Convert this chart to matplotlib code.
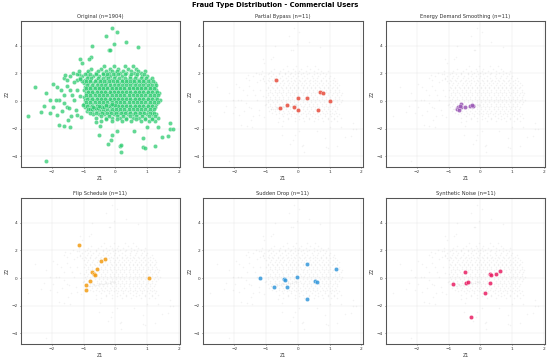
import matplotlib
matplotlib.use("Agg")
import matplotlib.pyplot as plt
import numpy as np

# ---------------- data ----------------
# dense core of the original cloud: rows of Z2 with their Z1 values
core_rows_z2 = [2.55, 2.3, 2.05, 1.8, 1.55, 1.3, 1.05, 0.8, 0.55, 0.3, 0.05,
                -0.2, -0.45, -0.7, -0.95, -1.2, -1.45]
core_rows_z1 = [
    [-0.35, -0.05, 0.3, 0.55],
    [-0.75, -0.45, -0.15, 0.1, 0.4, 0.65],
    [-0.9, -0.6, -0.4, -0.2, 0.0, 0.15, 0.35, 0.6, 0.8],
    [-1.05, -0.85, -0.7, -0.5, -0.3, -0.15, 0.0, 0.2, 0.45, 0.65, 0.85, 1.0],
    [-1.2, -0.95, -0.8, -0.62, -0.45, -0.3, -0.12, 0.05, 0.22, 0.38, 0.55, 0.72, 0.9, 1.1],
    [-1.0, -0.85, -0.7, -0.55, -0.42, -0.28, -0.15, 0.0, 0.13, 0.27, 0.4, 0.53, 0.67, 0.8, 0.95, 1.1, 1.25],
    [-0.95, -0.8, -0.66, -0.52, -0.38, -0.25, -0.12, 0.02, 0.15, 0.28, 0.42, 0.55, 0.68, 0.82, 0.96, 1.1, 1.24],
    [-1.0, -0.86, -0.72, -0.58, -0.45, -0.32, -0.18, -0.05, 0.08, 0.22, 0.35, 0.48, 0.62, 0.75, 0.88, 1.02, 1.16, 1.3],
    [-0.93, -0.8, -0.66, -0.52, -0.38, -0.25, -0.12, 0.02, 0.15, 0.28, 0.42, 0.55, 0.68, 0.82, 0.96, 1.1, 1.24, 1.38],
    [-1.0, -0.86, -0.72, -0.58, -0.45, -0.32, -0.18, -0.05, 0.08, 0.22, 0.35, 0.48, 0.62, 0.75, 0.88, 1.02, 1.16, 1.3],
    [-0.95, -0.8, -0.66, -0.52, -0.38, -0.25, -0.12, 0.02, 0.15, 0.28, 0.42, 0.55, 0.68, 0.82, 0.96, 1.1, 1.24, 1.4],
    [-1.0, -0.86, -0.72, -0.58, -0.45, -0.32, -0.18, -0.05, 0.08, 0.22, 0.35, 0.48, 0.62, 0.75, 0.88, 1.02, 1.16, 1.3],
    [-0.95, -0.8, -0.66, -0.52, -0.38, -0.25, -0.12, 0.02, 0.15, 0.28, 0.42, 0.55, 0.68, 0.82, 0.96, 1.1, 1.24],
    [-0.9, -0.72, -0.58, -0.45, -0.32, -0.18, -0.05, 0.08, 0.22, 0.35, 0.48, 0.62, 0.75, 0.88, 1.02, 1.16],
    [-0.7, -0.5, -0.35, -0.2, -0.05, 0.1, 0.25, 0.4, 0.55, 0.7, 0.85, 1.0, 1.15, 1.3],
    [-0.6, -0.3, -0.1, 0.15, 0.35, 0.55, 0.75, 0.95, 1.15, 1.35],
    [-0.45, -0.1, 0.2, 0.5, 0.8, 1.05, 1.25],
]

# interleaved rows of the core
mid_rows_z2 = [2.18, 1.93, 1.68, 1.42, 1.17, 0.92, 0.67, 0.42, 0.17, -0.08,
               -0.33, -0.58, -0.83, -1.08, -1.33]
mid_rows_z1 = [
    [-0.85, -0.55, -0.3, -0.1, 0.05, 0.25, 0.5, 0.72, 0.95],
    [-1.15, -0.95, -0.78, -0.6, -0.4, -0.25, -0.08, 0.1, 0.3, 0.5, 0.7, 0.9],
    [-1.1, -0.9, -0.75, -0.55, -0.38, -0.22, -0.05, 0.12, 0.3, 0.48, 0.62, 0.8, 0.98, 1.15],
    [-1.05, -0.92, -0.78, -0.63, -0.49, -0.35, -0.21, -0.08, 0.07, 0.2, 0.34, 0.47, 0.6, 0.74, 0.88, 1.02, 1.18],
    [-0.88, -0.73, -0.59, -0.45, -0.31, -0.18, -0.05, 0.09, 0.21, 0.35, 0.48, 0.61, 0.75, 0.89, 1.03, 1.17, 1.3],
    [-0.93, -0.79, -0.65, -0.51, -0.38, -0.25, -0.11, 0.02, 0.15, 0.28, 0.42, 0.55, 0.69, 0.82, 0.95, 1.09, 1.23],
    [-0.87, -0.73, -0.59, -0.45, -0.31, -0.18, -0.05, 0.09, 0.21, 0.35, 0.48, 0.62, 0.75, 0.89, 1.03, 1.17, 1.31],
    [-0.93, -0.79, -0.65, -0.51, -0.38, -0.25, -0.11, 0.02, 0.15, 0.28, 0.42, 0.55, 0.69, 0.82, 0.95, 1.09, 1.23, 1.36],
    [-0.88, -0.73, -0.59, -0.45, -0.31, -0.18, -0.05, 0.09, 0.21, 0.35, 0.48, 0.62, 0.75, 0.89, 1.03, 1.17, 1.31],
    [-0.93, -0.79, -0.65, -0.51, -0.38, -0.25, -0.11, 0.02, 0.15, 0.28, 0.42, 0.55, 0.69, 0.82, 0.95, 1.09, 1.23, 1.35],
    [-0.88, -0.73, -0.59, -0.45, -0.31, -0.18, -0.05, 0.09, 0.21, 0.35, 0.48, 0.62, 0.75, 0.89, 1.03, 1.17],
    [-0.83, -0.65, -0.51, -0.38, -0.25, -0.11, 0.02, 0.15, 0.28, 0.42, 0.55, 0.69, 0.82, 0.95, 1.09, 1.23],
    [-0.8, -0.6, -0.42, -0.27, -0.12, 0.02, 0.17, 0.32, 0.47, 0.62, 0.78, 0.92, 1.08, 1.22],
    [-0.45, -0.2, 0.05, 0.25, 0.45, 0.65, 0.85, 1.05, 1.25],
    [-0.3, 0.05, 0.35, 0.65, 0.95, 1.15],
]

# denser streak of the original cloud
streak_z1 = [-0.85, -0.78, -0.72, -0.66, -0.6, -0.54, -0.48, -0.42, -0.36, -0.3,
             -0.24, -0.18, -0.12, -0.06, 0.0, -0.7, -0.5, -0.3, -0.1]
streak_z2 = [-0.6, -0.58, -0.55, -0.52, -0.5, -0.48, -0.45, -0.43, -0.4, -0.38,
             -0.36, -0.33, -0.3, -0.28, -0.25, -0.42, -0.35, -0.28, -0.2]

# sparse points and outliers of the original cloud
sparse_z1 = [-0.11, 0.04, -0.28, -0.04, 0.34, 0.71, -0.72, -0.2, -0.16, -0.77,
             -0.83, -1.1, -1.06, -2.54, -2.18, -2.76, -2.26, -2.05, -2.33, -1.78,
             -1.61, -1.44, -2.18, -0.24, 0.14, 0.18, 0.19, 0.88, 0.94, 1.24,
             -0.09, -0.14, 0.05, 0.6, 1.0, 1.36, 1.48, 1.67, 1.73, 1.73,
             1.83, 0.87, -0.49, -0.51, -0.62,
             -1.95, -1.84, -1.72, -1.63, -1.53, -1.42, -1.32, -1.21, -1.13, -1.53,
             -1.78, -1.88, -1.63, -1.53, -1.46, -1.4, -1.21, -1.08, -1.69, -1.97,
             -2.05, -1.36, -1.29, -1.19, -1.1, -1.61, -1.42, -1.29, -1.1, -1.57,
             -1.23, -1.02, -1.84, -1.48]
sparse_z2 = [5.3, 5.0, 4.72, 4.1, 4.29, 3.9, 3.96, 3.69, 3.69, 3.17,
             3.05, 3.05, 2.73, 1.03, 0.55, -1.05, -0.34, -0.86, -0.82, -1.75,
             -1.77, -1.89, -4.34, -3.07, -3.26, -3.17, -3.67, -3.29, -3.36, -3.21,
             -2.47, -2.78, -2.13, -2.16, -1.9, -1.85, -2.59, -2.54, -1.6, -1.99,
             -2.04, -2.64, -1.82, -2.42, -1.53,
             1.25, 1.0, 0.82, 1.63, 1.49, 1.82, 2.01, 1.97, 2.16, 1.06,
             0.1, 0.05, -0.14, -0.43, -0.48, -1.1, -0.98, -1.15, -0.74, -0.43,
             0.1, 0.43, 0.1, 0.82, 0.34, 0.43, 0.82, 1.39, 1.58, 1.87,
             -0.62, -0.29, -0.98, -1.34]

n_original = 1904

fraud_types = ["Partial Bypass", "Energy Demand Smoothing", "Flip Schedule",
               "Sudden Drop", "Synthetic Noise"]
fraud_colors = ["#e74c3c", "#9b59b6", "#f39c12", "#3498db", "#e91e63"]

partial_bypass_z1 = [-0.69, -0.55, -0.35, -0.13, 0.0, 0.02, 0.3, 0.69, 0.78, 0.63, 1.03]
partial_bypass_z2 = [1.51, -0.48, -0.29, -0.46, 0.24, -0.62, 0.19, 0.67, 0.55, -0.62, 0.0]

smoothing_z1 = [-0.74, -0.69, -0.66, -0.62, -0.6, -0.49, -0.31, -0.24, -0.26, -0.68, -0.64]
smoothing_z2 = [-0.58, -0.43, -0.5, -0.22, -0.43, -0.41, -0.34, -0.34, -0.29, -0.62, -0.38]

flip_z1 = [-1.14, -0.31, -0.45, -0.56, -0.73, -0.66, -0.64, -0.81, -0.93, -0.93, 1.05]
flip_z2 = [2.39, 1.34, 1.26, 0.64, 0.43, 0.26, 0.21, -0.21, -0.5, -0.88, 0.0]

drop_z1 = [-1.19, -0.74, -0.42, -0.4, -0.34, -0.01, 0.3, 0.3, 0.55, 0.62, 1.2]
drop_z2 = [0.02, -0.65, -0.1, -0.12, -0.67, 0.1, 1.05, -1.53, -0.22, -0.26, 0.62]

noise_z1 = [-0.86, -0.48, -0.45, -0.4, -0.29, 0.14, 0.29, 0.29, 0.34, 0.48, 0.63]
noise_z2 = [-0.43, 0.46, -0.36, -0.31, -2.8, -1.05, -0.36, 0.29, 0.19, 0.26, 0.48]

fraud_z1 = [partial_bypass_z1, smoothing_z1, flip_z1, drop_z1, noise_z1]
fraud_z2 = [partial_bypass_z2, smoothing_z2, flip_z2, drop_z2, noise_z2]

# ---------------- assemble original cloud ----------------
orig_z1, orig_z2 = [], []
for yv, xs in list(zip(core_rows_z2, core_rows_z1)) + list(zip(mid_rows_z2, mid_rows_z1)):
    orig_z1 += xs
    orig_z2 += [yv] * len(xs)
orig_z1 += streak_z1 + sparse_z1
orig_z2 += streak_z2 + sparse_z2
orig_z1 = np.array(orig_z1)
orig_z2 = np.array(orig_z2)

# ---------------- plot ----------------
W, H = 550, 362
fig = plt.figure(figsize=(18, 18 * H / W), dpi=W / 18)
axes = fig.subplots(2, 3)
fig.subplots_adjust(left=0.0376, right=0.991, top=0.942, bottom=0.049,
                    wspace=0.146, hspace=0.21)

xlim = (-2.98, 2.04)
ylim = (-4.78, 5.78)


def style(ax, title):
    ax.set_title(title, fontsize=12, color="#333333")
    ax.set_xlabel("Z1", fontsize=11, color="#333333")
    ax.set_ylabel("Z2", fontsize=11, color="#333333")
    ax.set_xlim(xlim)
    ax.set_ylim(ylim)
    ax.set_xticks([-2, -1, 0, 1, 2])
    ax.set_yticks([-4, -2, 0, 2, 4])
    ax.tick_params(labelsize=10, colors="#333333", width=1.5)
    ax.grid(True, color="#cccccc", alpha=0.5, linewidth=1.0)
    ax.set_axisbelow(True)
    for sp in ax.spines.values():
        sp.set_color("#555555")
        sp.set_linewidth(2.5)


ax0 = axes[0, 0]
ax0.scatter(orig_z1, orig_z2, s=100, color="#2ecc71", alpha=0.75,
            edgecolors="white", linewidths=0.8)
style(ax0, f"Original (n={n_original})")

for i, (name, col, zx, zy) in enumerate(zip(fraud_types, fraud_colors, fraud_z1, fraud_z2)):
    ax = axes.flat[i + 1]
    ax.scatter(orig_z1, orig_z2, s=14, color="#999999", alpha=0.12, linewidths=0)
    ax.scatter(zx, zy, s=100, color=col, alpha=0.85, edgecolors="white", linewidths=0.8)
    style(ax, f"{name} (n={len(zx)})")

fig.suptitle("Fraud Type Distribution - Commercial Users", fontsize=16,
             fontweight="bold", y=0.995)

fig.savefig("out.png", dpi=W / 18)
